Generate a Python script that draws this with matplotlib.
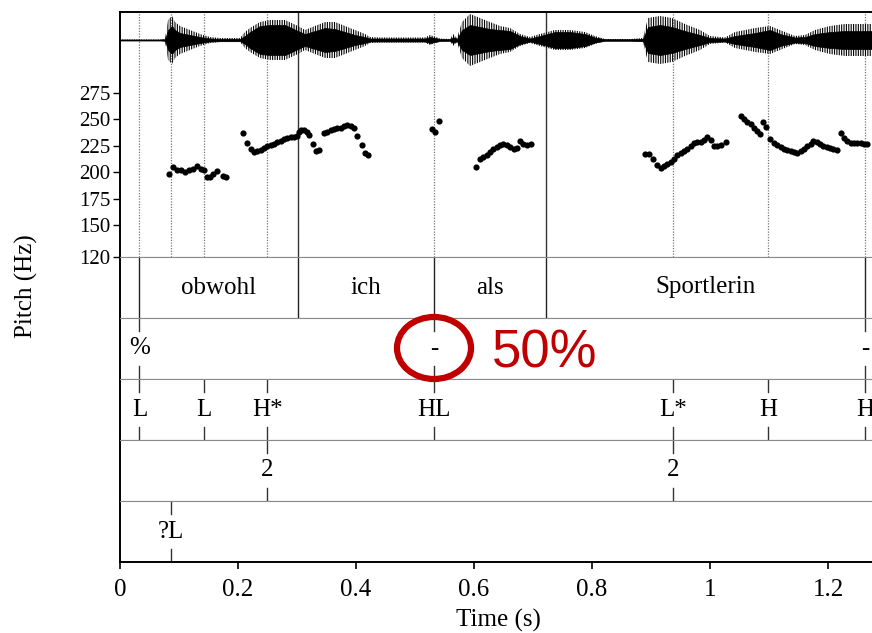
import matplotlib
matplotlib.use("Agg")
import matplotlib.pyplot as plt
from matplotlib.patches import Ellipse

plt.rcParams['font.family'] = ['Liberation Serif', 'DejaVu Serif']
plt.rcParams['hatch.linewidth'] = 0.8

W, H = 872, 633
T_MAX = 1.2746

# waveform envelope (time in s, half-amplitude)
wave_t = [0.0, 0.0678, 0.0763, 0.0814, 0.0881, 0.0932, 0.1017, 0.1186, 0.1356, 0.1525,
          0.1695, 0.2034, 0.2119, 0.2203, 0.2373, 0.2542, 0.2797, 0.3017, 0.3136, 0.3305,
          0.3475, 0.3644, 0.3814, 0.3983, 0.4153, 0.4237, 0.4407, 0.5169, 0.5254, 0.5424,
          0.5593, 0.5644, 0.5712, 0.5797, 0.5932, 0.6102, 0.6271, 0.6441, 0.6610, 0.6780,
          0.6949, 0.7119, 0.7373, 0.7627, 0.7881, 0.8051, 0.8220, 0.8644, 0.8864, 0.8949,
          0.9153, 0.9356, 0.9576, 0.9831, 1.0000, 1.0254, 1.0424, 1.0763, 1.1017, 1.1186,
          1.1441, 1.1610, 1.1780, 1.2034, 1.2288, 1.2542, 1.2746]
wave_amp = [0.5, 0.5, 1, 20, 24, 18, 14, 10, 6, 3,
            2, 2, 8, 12, 18, 20, 20, 14, 10, 14,
            18, 18, 14, 10, 6, 3, 2.5, 2.5, 5, 1.5,
            1, 6, 2, 18, 26, 22, 18, 14, 12, 6,
            3, 6, 10, 10, 8, 4, 1, 1, 2, 22,
            24, 22, 16, 10, 4, 2.5, 8, 12, 14, 10,
            4, 5, 10, 14, 16, 16, 16]
# denser core of the waveform
wave_core = [0.5, 0.5, 0.8, 10, 14, 10, 7, 5, 3, 1.5,
             1.2, 1.2, 4, 8, 14, 15, 15, 9, 6, 9,
             12, 11, 8, 5, 3, 1.5, 1.5, 1.5, 3, 1,
             0.8, 3, 1.2, 10, 15, 13, 11, 10, 9, 4,
             1.5, 4, 8, 8, 6, 2.5, 0.8, 0.8, 1.2, 13,
             15, 13, 9, 5, 2, 1.5, 4, 7, 10, 6,
             2.5, 3, 6, 8, 9, 9, 9]

# pitch track (s, Hz)
pitch_t = [0.0836, 0.0893, 0.0960, 0.1029, 0.1102, 0.1175, 0.1242, 0.1310, 0.1367, 0.1424,
           0.1469, 0.1525, 0.1581, 0.1639, 0.1741, 0.1797,
           0.2090, 0.2147, 0.2215, 0.2271, 0.2327, 0.2385, 0.2441, 0.2497, 0.2554, 0.2610,
           0.2666, 0.2724, 0.2780, 0.2836, 0.2893, 0.2949, 0.2995, 0.3029, 0.3073, 0.3119,
           0.3164, 0.3208, 0.3276, 0.3322, 0.3378,
           0.3458, 0.3514, 0.3571, 0.3627, 0.3683, 0.3741, 0.3797, 0.3853, 0.3910, 0.3966,
           0.4012, 0.4097, 0.4153, 0.4208,
           0.5283, 0.5339, 0.5412,
           0.6034, 0.6102, 0.6158, 0.6215, 0.6271, 0.6327, 0.6385, 0.6441, 0.6497, 0.6554,
           0.6610, 0.6678, 0.6734, 0.6780, 0.6836, 0.6903, 0.6961,
           0.8898, 0.8971, 0.9029, 0.9107, 0.9164, 0.9220, 0.9276, 0.9334, 0.9390, 0.9446,
           0.9503, 0.9559, 0.9615, 0.9673, 0.9729, 0.9785, 0.9842, 0.9898, 0.9954, 1.0012,
           1.0068, 1.0124, 1.0181, 1.0271,
           1.0520, 1.0576, 1.0632, 1.0690, 1.0746, 1.0802, 1.0847, 1.0893, 1.0949,
           1.1017, 1.1085, 1.1141, 1.1198, 1.1254, 1.1310, 1.1368, 1.1424, 1.1480, 1.1537,
           1.1593, 1.1649, 1.1707, 1.1751, 1.1808, 1.1864, 1.1920, 1.1978, 1.2034, 1.2090,
           1.2147,
           1.2215, 1.2271, 1.2327, 1.2385, 1.2441, 1.2497, 1.2554, 1.2610, 1.2666]
pitch_hz = [198, 205, 202.5, 201.8, 200, 202.5, 203.4, 205.6, 203.4, 201.8,
            195, 195.5, 198.7, 201, 196, 195,
            237, 227.5, 222.3, 219, 220, 221.3, 223.2, 224.4, 225.7, 227,
            228.2, 229.4, 231.3, 232.6, 233.2, 233.2, 234, 237.6, 239.5, 239.5,
            238.3, 235, 226.3, 220, 221.3,
            237, 238.3, 239.5, 240.8, 241.4, 242, 243.3, 244.5, 244, 241.4,
            234.5, 225.7, 218, 216,
            241, 238, 248.3,
            205, 212.8, 214.3, 216.6, 219, 221.6, 224.2, 226, 227, 226,
            224.2, 222.3, 222.9, 229.2, 226.6, 226, 226.6,
            217.5, 216.9, 212.8, 206.5, 204.3, 205.6, 207.5, 209.6, 212.8, 216,
            218, 220, 222.3, 224.4, 227.5, 228.9, 228.9, 230.8, 233.2, 230,
            224.4, 224.4, 225.4, 228.9,
            252.7, 250.2, 247.7, 245.2, 242, 238.9, 236.4, 247.7, 242.6,
            231.3, 227.5, 225.7, 223.8, 221.9, 220.7, 220, 219, 218, 220,
            222.3, 224.4, 227, 229.4, 228.2, 226.3, 225.1, 223.8, 222.8, 221.9,
            220.7,
            237, 232.6, 229.4, 227.5, 227.5, 227.5, 227.5, 227, 227]
pitch_ticks = [120, 150, 175, 200, 225, 250, 275]

# tiers
word_bounds = [0.033, 0.302, 0.532, 0.722, 1.263]
words = ['obwohl', 'ich', 'als', 'Sportlerin']
tier2_t = [0.033, 0.532, 1.263]
tier2_lab = ['%', '-', '-']
tier3_t = [0.033, 0.142, 0.250, 0.532, 0.937, 1.098, 1.263]
tier3_lab = ['L', 'L', 'H*', 'HL', 'L*', 'H', 'H']
tier4_t = [0.250, 0.937]
tier4_lab = ['2', '2']
tier5_t = [0.0864]
tier5_lab = ['?L']

dotted_t = [0.033, 0.0864, 0.142, 0.250, 0.532, 0.937, 1.098, 1.263]
solid_t = [0.302, 0.722]

x_ticks = [0, 0.2, 0.4, 0.6, 0.8, 1, 1.2]
x_tick_labels = ['0', '0.2', '0.4', '0.6', '0.8', '1', '1.2']

RED = '#c00000'
SEP = '#8a8a8a'


def box(top_px, bottom_px):
    """Axes rectangle in figure fractions from pixel rows."""
    return [120 / W, 1 - bottom_px / H, (W - 120) / W, (bottom_px - top_px) / H]


fig = plt.figure(figsize=(W / 100, H / 100), dpi=100)

# pitch panel
ax_p = fig.add_axes(box(12, 257))
ax_p.set_xlim(0, T_MAX)
ax_p.set_ylim(120, 120 + 245 / 1.06)
for t in dotted_t:
    ax_p.axvline(t, color='#777777', ls=(0, (1, 1.2)), lw=0.9)
for t in solid_t:
    ax_p.axvline(t, color='#333333', lw=1.0)
ax_p.scatter(pitch_t, pitch_hz, s=20, color='black', zorder=3, linewidths=0)
ax_p.set_yticks(pitch_ticks)
ax_p.set_yticklabels([str(v) for v in pitch_ticks], fontsize=15)
ax_p.tick_params(axis='y', length=5, width=1, pad=2)
ax_p.set_xticks([])
ax_p.spines['right'].set_visible(False)
ax_p.spines['top'].set_linewidth(1.4)
ax_p.spines['left'].set_linewidth(1.4)
ax_p.spines['bottom'].set_color(SEP)

# waveform overlay: hairy outer envelope plus dense core
ax_w = fig.add_axes(box(12, 68))
ax_w.set_xlim(0, T_MAX)
ax_w.set_ylim(-28, 28)
ax_w.fill_between(wave_t, [-a for a in wave_amp], wave_amp, facecolor='none',
                  edgecolor='black', hatch='|||||||', lw=0)
ax_w.fill_between(wave_t, [-a for a in wave_core], wave_core, color='black', lw=0.5)
ax_w.axhline(0, color='black', lw=0.8)
ax_w.axis('off')

# annotation tiers
rows = [257, 318, 379, 440, 501, 562]
tiers = [(word_bounds, None), (tier2_t, tier2_lab), (tier3_t, tier3_lab),
         (tier4_t, tier4_lab), (tier5_t, tier5_lab)]
tier_axes = []
for i, (times, labels) in enumerate(tiers):
    ax = fig.add_axes(box(rows[i], rows[i + 1]))
    ax.set_xlim(0, T_MAX)
    ax.set_ylim(0, 1)
    ax.set_yticks([])
    ax.set_xticks([])
    ax.spines['right'].set_visible(False)
    ax.spines['left'].set_linewidth(1.4)
    ax.spines['top'].set_color(SEP)
    ax.spines['bottom'].set_color(SEP)
    if labels is None:
        for t in times:
            ax.axvline(t, color='#222222', lw=1.0)
        for k, w in enumerate(words):
            ax.text((times[k] + times[k + 1]) / 2, 0.5, w, ha='center', va='center', fontsize=18)
    else:
        for t, lab in zip(times, labels):
            ax.plot([t, t], [1, 0.78], color='#333333', lw=1.0)
            ax.plot([t, t], [0, 0.22], color='#333333', lw=1.0)
            ax.text(t, 0.5, lab, ha='center', va='center', fontsize=18)
    tier_axes.append(ax)

ax_b = tier_axes[-1]
ax_b.spines['bottom'].set_color('black')
ax_b.spines['bottom'].set_linewidth(1.4)
ax_b.set_xticks(x_ticks)
ax_b.set_xticklabels(x_tick_labels, fontsize=18)
ax_b.tick_params(axis='x', length=5, width=1.2, pad=7)

fig.text(498 / W, 1 - 620 / H, 'Time (s)', ha='center', va='center', fontsize=18)
fig.text(26 / W, 1 - 286 / H, 'Pitch (Hz)', ha='center', va='center', rotation=90, fontsize=18)

# red highlight
fig.patches.append(Ellipse((434 / W, 1 - 348 / H), 74 / W, 62 / H, transform=fig.transFigure,
                           fill=False, edgecolor=RED, lw=4.5))
fig.text(492 / W, 1 - 368 / H, '50%', color=RED, fontsize=38, ha='left', va='baseline',
         family=['Liberation Sans', 'DejaVu Sans'])

fig.savefig('out.png', dpi=100)
